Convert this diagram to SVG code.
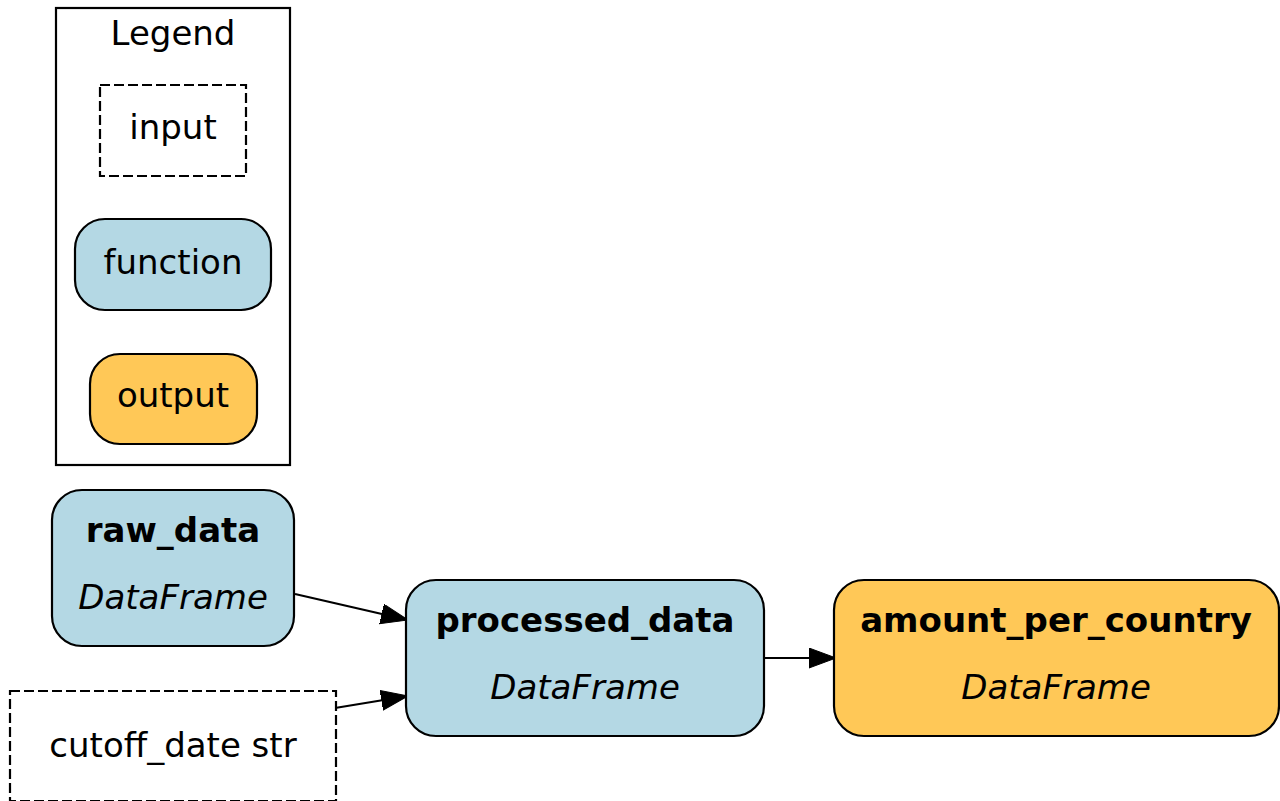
<svg xmlns="http://www.w3.org/2000/svg" width="1280" height="801" viewBox="0 0 1280 801">
<style>
text { font-family: "DejaVu Sans", sans-serif; font-size: 34px; text-anchor: middle; fill: #000; }
.b { font-weight: bold; }
.i { font-style: italic; }
.fn { fill: #b4d8e4; stroke: #000; stroke-width: 2.2; }
.out { fill: #ffc857; stroke: #000; stroke-width: 2.2; }
.inp { fill: #fff; stroke: #000; stroke-width: 2.2; stroke-dasharray: 10,4; }
.edge { stroke: #000; stroke-width: 2.2; fill: none; }
</style>
<defs>
<marker id="arr" markerUnits="userSpaceOnUse" markerWidth="30" markerHeight="24" refX="27" refY="10" orient="auto">
<path d="M0,0 L27,10 L0,20 Z" fill="#000" stroke="#000" stroke-width="1"/>
</marker>
</defs>
<rect width="1280" height="801" fill="#fff"/>
<g id="legend">
<rect x="56" y="8" width="234" height="457" fill="none" stroke="#000" stroke-width="2.2"/>
<text x="173" y="45">Legend</text>
<g id="legend-input">
<rect class="inp" x="100" y="85" width="146" height="91"/>
<text x="173" y="139">input</text>
</g>
<g id="legend-function">
<rect class="fn" x="75" y="219" width="196" height="91" rx="30" ry="30"/>
<text x="173" y="274">function</text>
</g>
<g id="legend-output">
<rect class="out" x="90" y="354" width="167" height="90" rx="30" ry="30"/>
<text x="173" y="407">output</text>
</g>
</g>
<g id="connectors">
<line class="edge" x1="295" y1="594" x2="408" y2="620" marker-end="url(#arr)"/>
<line class="edge" x1="335" y1="708" x2="408" y2="696" marker-end="url(#arr)"/>
<line class="edge" x1="764" y1="658" x2="836" y2="658" marker-end="url(#arr)"/>
</g>
<g id="raw_data">
<rect class="fn" x="52" y="490" width="242" height="156" rx="30" ry="30"/>
<text class="b" x="173" y="542">raw_data</text>
<text class="i" x="173" y="609">DataFrame</text>
</g>
<g id="cutoff_date">
<rect class="inp" x="10" y="691" width="326" height="110"/>
<text x="173" y="757">cutoff_date str</text>
</g>
<g id="processed_data">
<rect class="fn" x="406" y="580" width="358" height="156" rx="30" ry="30"/>
<text class="b" x="585" y="632">processed_data</text>
<text class="i" x="585" y="699">DataFrame</text>
</g>
<g id="amount_per_country">
<rect class="out" x="834" y="580" width="445" height="156" rx="30" ry="30"/>
<text class="b" x="1056" y="632">amount_per_country</text>
<text class="i" x="1056" y="699">DataFrame</text>
</g>
</svg>
